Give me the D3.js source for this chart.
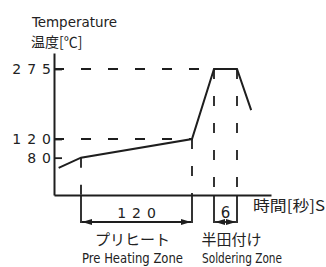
<!DOCTYPE html>
<html>
<head>
<meta charset="utf-8">
<script src="https://cdn.jsdelivr.net/npm/d3@7"></script>
<style>
  body { margin: 0; background: #fff; }
  svg { display: block; }
  .jp { font-family: "Noto Sans CJK JP", sans-serif; fill: #222; }
  .narrow { font-family: "Liberation Sans Narrow", "DejaVu Sans Condensed", "Roboto", sans-serif; fill: #222; }
  .num { font-family: "DejaVu Sans", sans-serif; fill: #222; }
</style>
</head>
<body>
<div id="chart"></div>
<script>
// temperature axis ticks
var tempTicks = [275, 120, 80];

// reflow profile (time in s, temperature in degC)
var profileTime = [-24, 0, 120, 140, 146, 156];
var profileTemp = [58, 80, 120, 275, 275, 184];

// zones
var zoneStart = [0, 140];
var zoneEnd = [120, 146];
var zoneSpan = ['120', '6'];
var zoneNameJa = ['プリヒート', '半田付け'];
var zoneNameEn = ['Pre Heating Zone', 'Soldering Zone'];

var width = 326, height = 267;

// schematic chart, so the scales are piecewise
var x = d3.scaleLinear()
    .domain([-29, 0, 120, 140, 146, 170])
    .range([54, 81, 192, 214, 237, 271]);

var y = d3.scaleLinear()
    .domain([0, 120, 275, 310])
    .range([195, 139, 69, 53]);

var svg = d3.select('#chart')
    .append('svg')
    .attr('width', width)
    .attr('height', height);

var ink = '#1e1e1e';

// arrow heads
var defs = svg.append('defs');
defs.append('marker')
    .attr('id', 'head')
    .attr('viewBox', '0 0 10 6')
    .attr('refX', 10)
    .attr('refY', 3)
    .attr('markerWidth', 10)
    .attr('markerHeight', 6)
    .attr('markerUnits', 'userSpaceOnUse')
    .attr('orient', 'auto-start-reverse')
  .append('path')
    .attr('d', 'M0,0 L10,3 L0,6 Z')
    .attr('fill', ink);

// guide lines (dashed)
var guides = [
  {x1: x.domain()[0], y1: 275, x2: profileTime[3], y2: 275},
  {x1: x.domain()[0], y1: 120, x2: profileTime[2], y2: 120},
  {x1: profileTime[1], y1: 80, x2: profileTime[1], y2: 0},
  {x1: profileTime[2], y1: 120, x2: profileTime[2], y2: 0},
  {x1: profileTime[3], y1: 275, x2: profileTime[3], y2: 0},
  {x1: profileTime[4], y1: 275, x2: profileTime[4], y2: 0}
];
svg.append('g').selectAll('line')
    .data(guides)
  .enter().append('line')
    .attr('x1', function(d) { return x(d.x1); })
    .attr('y1', function(d) { return y(d.y1); })
    .attr('x2', function(d) { return x(d.x2); })
    .attr('y2', function(d) { return y(d.y2); })
    .attr('stroke', ink)
    .attr('stroke-width', 1.8)
    .attr('stroke-dasharray', '10,17');

// y axis, ticks point inside
var yAxis = svg.append('g')
    .attr('transform', 'translate(' + x.range()[0] + ',0)')
    .call(d3.axisLeft(y)
      .tickValues(tempTicks)
      .tickSizeInner(-8)
      .tickSizeOuter(0)
      .tickPadding(3));
yAxis.select('.domain').attr('stroke', ink).attr('stroke-width', 2);
yAxis.selectAll('.tick line').attr('stroke', ink).attr('stroke-width', 1.8);
yAxis.selectAll('.tick text')
    .attr('class', 'num')
    .attr('font-size', 14)
    .attr('letter-spacing', 6)
    .attr('dx', 6)
    .attr('fill', ink);

// x axis, no ticks
var xAxis = svg.append('g')
    .attr('transform', 'translate(0,' + y(0) + ')')
    .call(d3.axisBottom(x).tickValues([]).tickSizeOuter(0));
xAxis.select('.domain').attr('stroke', ink).attr('stroke-width', 2);

// profile line
var line = d3.line()
    .x(function(d, i) { return x(profileTime[i]); })
    .y(function(d) { return y(d); });
svg.append('path')
    .datum(profileTemp)
    .attr('fill', 'none')
    .attr('stroke', ink)
    .attr('stroke-width', 2)
    .attr('stroke-linejoin', 'miter')
    .attr('d', line);

// zone dimension lines
var arrowY = 222;
var zones = svg.append('g').selectAll('g')
    .data(zoneStart)
  .enter().append('g');

zones.append('line')
    .attr('x1', function(d) { return x(d); })
    .attr('x2', function(d) { return x(d); })
    .attr('y1', y(0))
    .attr('y2', arrowY + 1)
    .attr('stroke', ink).attr('stroke-width', 1.8);
zones.append('line')
    .attr('x1', function(d, i) { return x(zoneEnd[i]); })
    .attr('x2', function(d, i) { return x(zoneEnd[i]); })
    .attr('y1', y(0))
    .attr('y2', arrowY + 1)
    .attr('stroke', ink).attr('stroke-width', 1.8);
zones.append('line')
    .attr('x1', function(d) { return x(d) + 1; })
    .attr('x2', function(d, i) { return x(zoneEnd[i]) - 1; })
    .attr('y1', arrowY)
    .attr('y2', arrowY)
    .attr('stroke', ink).attr('stroke-width', 1.8)
    .attr('marker-start', 'url(#head)')
    .attr('marker-end', 'url(#head)');

zones.append('text')
    .attr('class', 'num')
    .attr('x', function(d, i) { return (x(d) + x(zoneEnd[i])) / 2 + (i === 0 ? 3 : 0); })
    .attr('y', 218)
    .attr('text-anchor', 'middle')
    .attr('font-size', function(d, i) { return i === 0 ? 14 : 15; })
    .attr('letter-spacing', function(d, i) { return i === 0 ? 6 : 0; })
    .text(function(d, i) { return zoneSpan[i]; });

var jaX = [132.5, 231.5], enX = [132.5, 242], enLen = [101, 80];
zones.append('text')
    .attr('class', 'jp')
    .attr('x', function(d, i) { return jaX[i]; })
    .attr('y', 245)
    .attr('text-anchor', 'middle')
    .attr('font-size', 15)
    .text(function(d, i) { return zoneNameJa[i]; });
zones.append('text')
    .attr('class', 'narrow')
    .attr('x', function(d, i) { return enX[i] - enLen[i] / 2; })
    .attr('y', 263)
    .attr('font-size', 14)
    .attr('textLength', function(d, i) { return enLen[i]; })
    .attr('lengthAdjust', 'spacingAndGlyphs')
    .text(function(d, i) { return zoneNameEn[i]; });

// axis titles
svg.append('text')
    .attr('class', 'narrow')
    .attr('x', 32)
    .attr('y', 27)
    .attr('font-size', 14)
    .attr('textLength', 85)
    .attr('lengthAdjust', 'spacingAndGlyphs')
    .text('Temperature');
svg.append('text')
    .attr('class', 'jp')
    .attr('x', 31)
    .attr('y', 47)
    .attr('font-size', 14)
    .text('温度[℃]');
svg.append('text')
    .attr('class', 'jp')
    .attr('x', 253)
    .attr('y', 211)
    .attr('font-size', 15)
    .attr('textLength', 72)
    .attr('lengthAdjust', 'spacingAndGlyphs')
    .text('時間[秒]S');
</script>
</body>
</html>
